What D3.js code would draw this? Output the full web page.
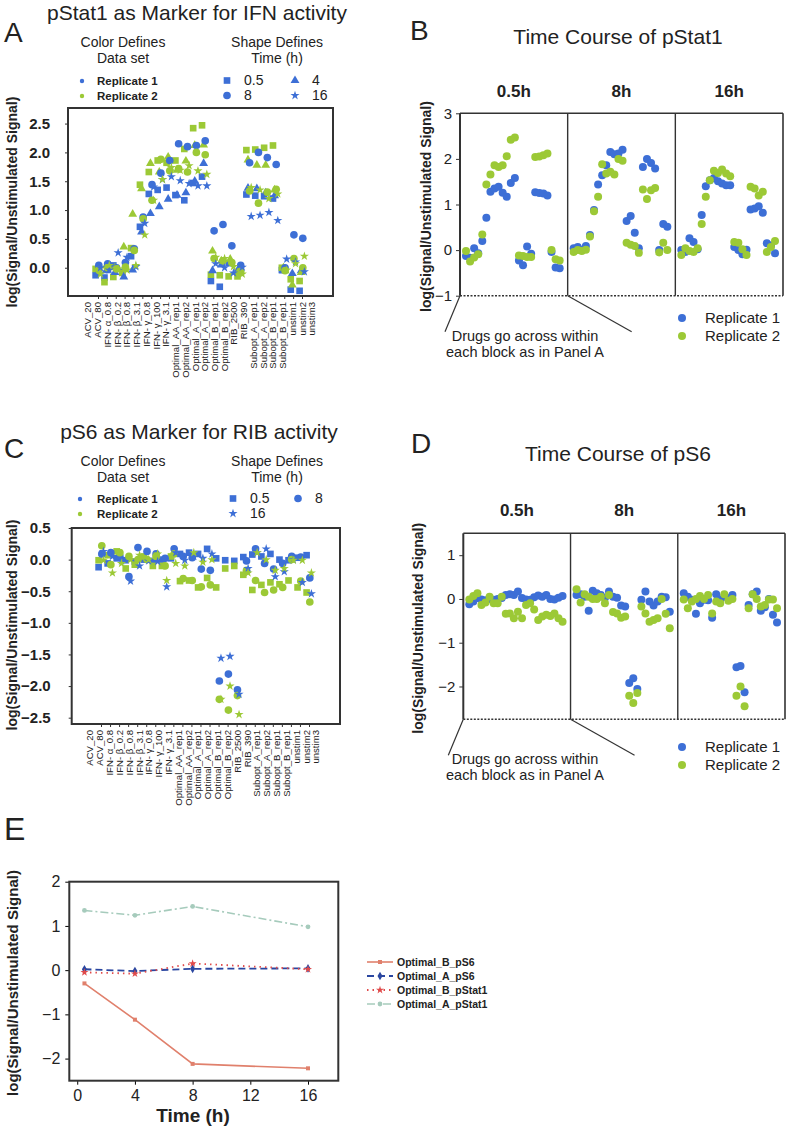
<!DOCTYPE html>
<html><head><meta charset="utf-8">
<script src="https://cdn.jsdelivr.net/npm/d3@7"></script>
<style>
body{margin:0;background:#fff}
svg{display:block}
text{font-family:"Liberation Sans",Arial,sans-serif;fill:#222}
</style>
</head><body>
<svg id="c" width="789" height="1129"></svg>
<script>
// ---------------- DATA ----------------
const categories = ["ACV_20","ACV_80","IFN- α_0.8","IFN- β_0.2","IFN- β_0.8","IFN- β_3.1","IFN- γ_0.8","IFN- γ_100","IFN- γ_3.1","Optimal_AA_rep1","Optimal_AA_rep2","Optimal_A_rep1","Optimal_A_rep2","Optimal_B_rep1","Optimal_B_rep2","RIB_2500","RIB_390","Subopt_A_rep1","Subopt_A_rep2","Subopt_B_rep1","Subopt_B_rep1","unstim1","unstim2","unstim3"];
const timesA = ["0.5","4","8","16"];
const timesC = ["0.5","8","16"];
const blockLabels = ["0.5h","8h","16h"];
const replicates = ["Replicate 1","Replicate 2"];

// pStat1, replicate 1
const stat1_r1_h05 = [-0.13,-0.17,0.04,-0.07,0.2,0.71,1.28,1.35,1.39,1.26,1.17,1.47,1.58,-0.23,-0.33,0.08,-0.08,1.27,1.25,1.24,1.2,-0.04,-0.38,-0.4];
const stat1_r1_h4  = [-0.1,-0.05,-0.08,-0.16,-0.04,0.62,0.94,1.06,1.19,1.26,1.3,1.5,1.81,-0.05,0.05,0.1,0.0,1.38,1.37,1.3,1.25,-0.05,-0.1,-0.05];
const stat1_r1_h8  = [0.04,0.07,0.0,0.09,0.33,0.88,1.44,1.64,1.86,2.15,2.1,2.12,2.2,0.64,0.75,0.38,0.04,1.82,2.0,1.91,1.79,0.0,0.57,0.51];
const stat1_r1_h16 = [0.0,-0.04,0.26,0.18,0.02,0.77,1.4,1.53,1.58,1.51,1.46,1.42,1.42,0.07,0.0,-0.09,0.01,0.89,0.91,0.96,0.82,0.15,0.1,-0.07];
// pStat1, replicate 2
const stat1_r2_h05 = [-0.02,-0.25,-0.16,-0.09,0.34,1.44,1.66,1.86,1.82,1.86,2.06,2.42,2.47,-0.12,-0.13,-0.15,-0.15,2.04,2.05,2.08,2.12,0.0,-0.2,-0.23];
const stat1_r2_h4  = [0.0,0.03,0.0,0.36,0.93,1.37,1.81,1.66,1.92,1.69,1.85,2.12,2.13,0.29,0.12,0.15,-0.05,1.87,1.78,1.78,1.35,0.0,-0.3,-0.08];
const stat1_r2_h8  = [-0.04,0.0,-0.02,0.01,0.3,0.85,1.17,1.88,1.68,1.72,1.66,2.0,1.96,0.16,0.12,0.09,-0.06,1.33,1.12,1.31,1.36,-0.05,0.16,0.0];
const stat1_r2_h16 = [-0.11,0.04,-0.02,-0.04,0.04,0.57,1.17,1.53,1.74,1.69,1.77,1.68,1.62,0.18,0.16,0.02,-0.11,1.39,1.35,1.2,1.28,-0.04,0.07,0.2];

// pS6, replicate 1
const s6_r1_h05 = [-0.12,-0.06,0.02,-0.01,-0.03,0.0,-0.02,0.0,0.02,0.09,0.11,0.09,0.17,0.02,-0.01,-0.02,0.04,0.08,0.05,0.09,0.0,-0.01,0.03,0.07];
const s6_r1_h8  = [0.09,0.11,0.05,-0.27,0.19,0.13,0.09,0.02,0.17,0.05,0.03,-0.15,-0.17,-1.92,-1.81,-2.06,-0.02,0.17,-0.06,-0.15,-0.06,0.05,0.04,-0.29];
const s6_r1_h16 = [0.13,0.05,-0.02,-0.34,-0.1,-0.02,-0.03,-0.43,0.11,-0.01,0.05,0.02,0.09,-1.56,-1.53,-2.13,-0.14,0.11,0.17,-0.27,-0.19,0.0,-0.36,-0.54];
// pS6, replicate 2
const s6_r2_h05 = [-0.01,0.07,0.13,-0.14,-0.08,0.05,-0.1,-0.1,0.05,-0.34,-0.33,-0.44,-0.29,-0.44,-0.14,-0.1,-0.24,-0.48,-0.4,-0.36,-0.39,-0.33,-0.44,-0.52];
const s6_r2_h8  = [0.22,-0.08,0.11,0.05,0.0,0.0,0.05,-0.1,0.09,-0.3,-0.33,-0.43,-0.4,-2.21,-2.38,-2.15,-0.17,-0.33,-0.52,-0.48,-0.44,0.0,-0.34,-0.67];
const s6_r2_h16 = [-0.01,-0.21,-0.06,0.0,0.07,0.0,0.09,-0.33,-0.06,-0.1,0.11,-0.04,0.0,-2.21,-2.0,-2.45,-0.21,0.11,0.0,-0.17,-0.14,-0.01,-0.01,-0.21];

// Panel E
const timesE = [0.5,4,8,16];
const optB_pS6 = [-0.3,-1.12,-2.12,-2.22];
const optA_pS6 = [0.02,-0.02,0.03,0.04];
const optB_pStat1 = [-0.05,-0.08,0.15,0.02];
const optA_pStat1 = [1.35,1.24,1.44,0.98];
const seriesNamesE = ["Optimal_B_pS6","Optimal_A_pS6","Optimal_B_pStat1","Optimal_A_pStat1"];

// ---------------- SETUP ----------------
const BLUE = "#3d6fd6", GREEN = "#9cc936";
const repColor = [BLUE, GREEN];
const svg = d3.select("#c");
const symType = {"0.5": d3.symbolSquare, "4": d3.symbolTriangle, "8": d3.symbolCircle, "16": d3.symbolStar};
const symSize = {"0.5": 44, "4": 34, "8": 46, "16": 26};
const sym = t => d3.symbol().type(symType[t]).size(symSize[t])();
const tOff = {"0.5": -2.4, "4": -0.8, "8": 0.8, "16": 2.4};

const stat1 = [
  {rep:0,t:"0.5",v:stat1_r1_h05},{rep:1,t:"0.5",v:stat1_r2_h05},
  {rep:0,t:"4",v:stat1_r1_h4},{rep:1,t:"4",v:stat1_r2_h4},
  {rep:0,t:"8",v:stat1_r1_h8},{rep:1,t:"8",v:stat1_r2_h8},
  {rep:0,t:"16",v:stat1_r1_h16},{rep:1,t:"16",v:stat1_r2_h16}
];
const s6 = [
  {rep:0,t:"0.5",v:s6_r1_h05},{rep:1,t:"0.5",v:s6_r2_h05},
  {rep:0,t:"8",v:s6_r1_h8},{rep:1,t:"8",v:s6_r2_h8},
  {rep:0,t:"16",v:s6_r1_h16},{rep:1,t:"16",v:s6_r2_h16}
];

function txt(g, x, y, s, size, opts={}) {
  const t = g.append("text").attr("x", x).attr("y", y).text(s).style("font-size", size + "px");
  if (opts.anchor) t.attr("text-anchor", opts.anchor);
  if (opts.bold) t.style("font-weight", "bold");
  return t;
}
function yLabel(g, x, y, size) {
  g.append("text").attr("transform", `translate(${x},${y}) rotate(-90)`)
    .attr("text-anchor", "middle").attr("dy", "0.35em")
    .style("font-size", size + "px").style("font-weight", "bold")
    .text("log(Signal/Unstimulated Signal)");
}

// ---------- Scatter panel (A / C) ----------
function scatterPanel(o) {
  const g = svg.append("g");
  txt(g, o.letterX, o.letterY, o.letter, 28);
  txt(g, o.titleX, o.titleY, o.title, 21, {anchor: "middle"});
  txt(g, 123, o.legY, "Color Defines", 14, {anchor: "middle"});
  txt(g, 123, o.legY + 16, "Data set", 14, {anchor: "middle"});
  txt(g, 277, o.legY, "Shape Defines", 14, {anchor: "middle"});
  txt(g, 277, o.legY + 16, "Time (h)", 14, {anchor: "middle"});
  replicates.forEach((r, i) => {
    const yy = o.repY + i * 15;
    g.append("circle").attr("cx", o.dotX).attr("cy", yy - 4).attr("r", 2.2).attr("fill", repColor[i]);
    txt(g, 97, yy, r, 11.5, {bold: true});
  });
  o.shapeLeg.forEach(s => {
    g.append("path").attr("d", sym(s.t)).attr("transform", `translate(${s.x},${s.y - 4.5})`).attr("fill", BLUE);
    txt(g, s.x + 17, s.y, s.t, 14);
  });
  const x = d3.scalePoint().domain(d3.range(categories.length)).range(o.xr);
  const xl = d3.scalePoint().domain(d3.range(categories.length)).range(o.xlr);
  const y = d3.scaleLinear().domain(o.yd).range([o.bottom, o.top]);
  g.append("g").attr("transform", `translate(0,${o.bottom})`)
    .call(d3.axisBottom(x).tickSize(3).tickFormat(""))
    .call(a => a.select(".domain").remove())
    .selectAll("line").attr("stroke", "#333");
  g.append("g").selectAll("text").data(categories).enter().append("text")
    .attr("transform", (d, i) => `translate(${xl(i)},${o.bottom + 6}) rotate(-90)`)
    .attr("text-anchor", "end").attr("dy", "0.35em")
    .style("font-size", "9.6px").text(d => d);
  const ya = g.append("g").attr("transform", `translate(${o.left},0)`)
    .call(d3.axisLeft(y).tickValues(o.yt).tickFormat(d3.format(".1f")).tickSize(3).tickPadding(o.pad));
  ya.select(".domain").remove();
  ya.selectAll("text").style("font-size", "15px").style("font-weight", "bold").attr("fill", "#222");
  ya.selectAll("line").attr("stroke", "#333");
  yLabel(g, 12, o.ylabY, 14);
  o.data.forEach(s => {
    g.append("g").selectAll("path").data(s.v).enter().append("path")
      .attr("d", sym(s.t))
      .attr("transform", (v, i) => `translate(${x(i) + tOff[s.t]},${y(v)})`)
      .attr("fill", repColor[s.rep]);
  });
  g.append("rect").attr("x", o.left).attr("y", o.top).attr("width", o.right - o.left).attr("height", o.bottom - o.top)
    .attr("fill", "none").attr("stroke", "#333").attr("stroke-width", 2);
}

scatterPanel({
  letter: "A", letterX: 4, letterY: 42, title: "pStat1 as Marker for IFN activity", titleX: 197, titleY: 20,
  legY: 47, repY: 85, dotX: 82,
  shapeLeg: [{t:"0.5",x:227,y:85},{t:"4",x:295,y:85},{t:"8",x:227,y:100},{t:"16",x:295,y:100}],
  xr: [98, 302], xlr: [88, 312], yd: [-0.49, 2.77], yt: [0,0.5,1,1.5,2,2.5],
  left: 68, right: 333, top: 108, bottom: 296, pad: 15, ylabY: 202, data: stat1
});
scatterPanel({
  letter: "C", letterX: 4, letterY: 458, title: "pS6 as Marker for RIB activity", titleX: 199, titleY: 439,
  legY: 466, repY: 503, dotX: 80,
  shapeLeg: [{t:"0.5",x:233,y:503},{t:"8",x:298,y:503},{t:"16",x:233,y:518}],
  xr: [101, 309], xlr: [90, 316], yd: [-2.6, 0.5], yt: [0.5,0,-0.5,-1,-1.5,-2,-2.5],
  left: 71.7, right: 340, top: 528, bottom: 724, pad: 18, ylabY: 625, data: s6
});

// ---------- Time course panel (B / D) ----------
function timePanel(o) {
  const g = svg.append("g");
  txt(g, o.letterX, o.letterY, o.letter, 28);
  txt(g, 618, o.titleY, o.title, 21, {anchor: "middle"});
  const xb = d3.scaleBand().domain(blockLabels).range([o.left, o.right]);
  const xi = d3.scalePoint().domain(d3.range(categories.length)).range([6, xb.bandwidth() - 8]);
  const y = d3.scaleLinear().domain(o.yd).range([o.bottom, o.top]);
  blockLabels.forEach(b => txt(g, xb(b) + xb.bandwidth() / 2, o.blockY, b, 17, {anchor: "middle", bold: true}));
  const ya = g.append("g").attr("transform", `translate(${o.left},0)`)
    .call(d3.axisLeft(y).tickValues(o.yt).tickFormat(d3.format("d")).tickSize(4).tickPadding(4));
  ya.select(".domain").remove();
  ya.selectAll("text").style("font-size", "15px").attr("fill", "#222");
  ya.selectAll("line").attr("stroke", "#333");
  yLabel(g, o.ylabX, (o.top + o.bottom) / 2 + 2, 14);
  o.data.forEach(s => {
    const b = blockLabels[timesC.indexOf(s.t)];
    g.append("g").selectAll("circle").data(s.v).enter().append("circle")
      .attr("cx", (v, i) => xb(b) + xi(i)).attr("cy", v => y(v)).attr("r", 4)
      .attr("fill", repColor[s.rep]);
  });
  const st = "#333";
  g.append("line").attr("x1", o.left).attr("x2", o.right).attr("y1", o.top).attr("y2", o.top).attr("stroke", st).attr("stroke-width", 1.6);
  g.append("line").attr("x1", o.left).attr("x2", o.left).attr("y1", o.top).attr("y2", o.bottom).attr("stroke", st).attr("stroke-width", 2);
  g.append("line").attr("x1", o.right).attr("x2", o.right).attr("y1", o.top).attr("y2", o.bottom).attr("stroke", st).attr("stroke-width", 1.6);
  blockLabels.slice(1).forEach(b => g.append("line").attr("x1", xb(b)).attr("x2", xb(b)).attr("y1", o.top).attr("y2", o.bottom).attr("stroke", st).attr("stroke-width", 1.4));
  g.append("line").attr("x1", o.left).attr("x2", o.right).attr("y1", o.bottom).attr("y2", o.bottom)
    .attr("stroke", st).attr("stroke-width", 1.6).attr("stroke-dasharray", "2,1.5");
  g.append("line").attr("x1", o.left).attr("y1", o.bottom).attr("x2", o.left - 15).attr("y2", o.bottom + 36).attr("stroke", st).attr("stroke-width", 1.2);
  g.append("line").attr("x1", xb(blockLabels[1])).attr("y1", o.bottom).attr("x2", xb(blockLabels[1]) + 64).attr("y2", o.bottom + 36).attr("stroke", st).attr("stroke-width", 1.2);
  txt(g, 525, o.bottom + 45, "Drugs go across within", 14.5, {anchor: "middle"});
  txt(g, 525, o.bottom + 61, "each block as in Panel A", 14.5, {anchor: "middle"});
  replicates.forEach((r, i) => {
    const yy = o.legY + i * 18;
    g.append("circle").attr("cx", 682).attr("cy", yy).attr("r", 4).attr("fill", repColor[i]);
    txt(g, 705, yy + 5, r, 15);
  });
}

timePanel({
  letter: "B", letterX: 410, letterY: 40, title: "Time Course of pStat1", titleY: 44, blockY: 97,
  left: 460, right: 783, top: 113.3, bottom: 295.7, yd: [-1, 3], yt: [-1,0,1,2,3], ylabX: 426,
  legY: 318, data: stat1.filter(s => s.t !== "4")
});
timePanel({
  letter: "D", letterX: 411, letterY: 453, title: "Time Course of pS6", titleY: 461, blockY: 516,
  left: 463.3, right: 785, top: 533.3, bottom: 719.3, yd: [-2.75, 1.5], yt: [-2,-1,0,1], ylabX: 418,
  legY: 747, data: s6
});

// ---------- Panel E ----------
(function () {
  const g = svg.append("g");
  txt(g, 4, 840, "E", 32);
  const left = 69.3, right = 338.3, top = 881.7, bottom = 1080.7;
  const x = d3.scaleLinear().domain([-0.55, 18.1]).range([left, right]);
  const y = d3.scaleLinear().domain([-2.5, 2]).range([bottom, top]);
  const xa = g.append("g").attr("transform", `translate(0,${bottom})`)
    .call(d3.axisBottom(x).tickValues([0,4,8,12,16]).tickFormat(d3.format("d")).tickSize(4).tickPadding(5));
  xa.select(".domain").remove();
  xa.selectAll("text").style("font-size", "16px").attr("fill", "#222");
  const ya = g.append("g").attr("transform", `translate(${left},0)`)
    .call(d3.axisLeft(y).tickValues([-2,-1,0,1,2]).tickFormat(d3.format("d")).tickSize(4).tickPadding(5));
  ya.select(".domain").remove();
  ya.selectAll("text").style("font-size", "16px").attr("fill", "#222");
  txt(g, 193, 1122, "Time (h)", 19, {anchor: "middle", bold: true});
  yLabel(g, 13, 983, 15);
  const series = [
    {name: seriesNamesE[0], v: optB_pS6, c: "#e0806c", dash: null, w: 1.6, s: d3.symbolSquare, ss: 16},
    {name: seriesNamesE[1], v: optA_pS6, c: "#2a46a0", dash: "7,4", w: 1.8, s: d3.symbolDiamond, ss: 22},
    {name: seriesNamesE[2], v: optB_pStat1, c: "#e04a4a", dash: "1.5,4", w: 1.8, s: d3.symbolStar, ss: 20},
    {name: seriesNamesE[3], v: optA_pStat1, c: "#a6cbbc", dash: "8,3,2,3", w: 1.6, s: d3.symbolCircle, ss: 18}
  ];
  const line = d3.line().x((d, i) => x(timesE[i])).y(d => y(d));
  series.forEach((s, k) => {
    g.append("path").attr("d", line(s.v)).attr("fill", "none").attr("stroke", s.c)
      .attr("stroke-width", s.w).attr("stroke-dasharray", s.dash);
    g.append("g").selectAll("path").data(s.v).enter().append("path")
      .attr("d", d3.symbol().type(s.s).size(s.ss)())
      .attr("transform", (d, i) => `translate(${x(timesE[i])},${y(d)})`).attr("fill", s.c);
    const ly = 962 + k * 14;
    g.append("line").attr("x1", 367).attr("x2", 393).attr("y1", ly).attr("y2", ly)
      .attr("stroke", s.c).attr("stroke-width", s.w).attr("stroke-dasharray", s.dash);
    g.append("path").attr("d", d3.symbol().type(s.s).size(s.ss)()).attr("transform", `translate(380,${ly})`).attr("fill", s.c);
    txt(g, 397, ly + 4, s.name, 10.5, {bold: true});
  });
  g.append("rect").attr("x", left).attr("y", top).attr("width", right - left).attr("height", bottom - top)
    .attr("fill", "none").attr("stroke", "#333").attr("stroke-width", 2);
})();
</script>
</body></html>
